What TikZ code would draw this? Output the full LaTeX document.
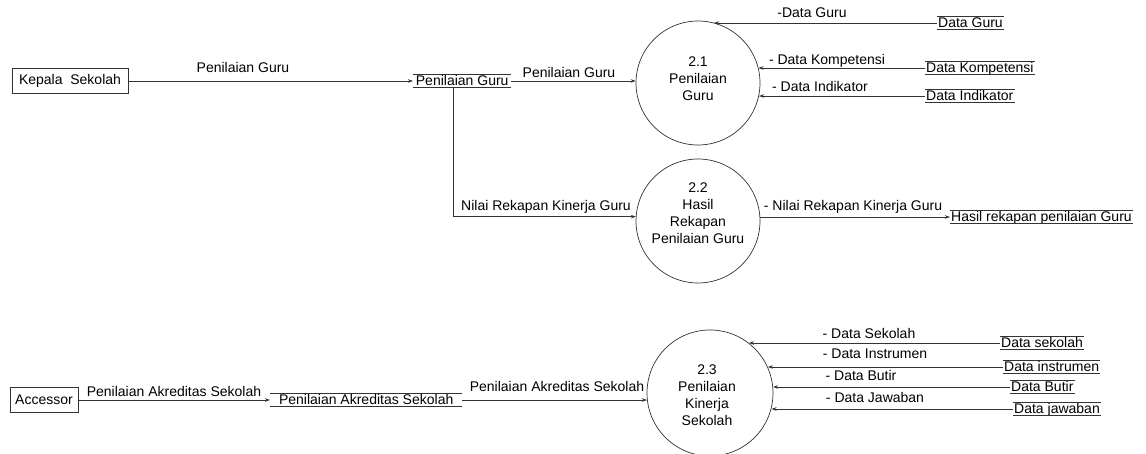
\documentclass[tikz,border=0pt]{standalone}
\usepackage{fontspec}
\setmainfont{Liberation Sans}
\usetikzlibrary{arrows.meta}
\begin{document}
\begin{tikzpicture}[x=1pt,y=-1pt,
  font=\fontsize{14}{17}\selectfont,
  ln/.style={draw=black!80, line width=0.7pt},
  arr/.style={ln, -{Stealth[length=5pt,width=3.5pt]}},
  ent/.style={draw=black!80, line width=0.7pt, inner sep=0pt, minimum height=25pt},
  proc/.style={circle, draw=black!80, line width=0.7pt, inner sep=0pt},
  ptext/.style={align=center, inner sep=0pt},
  store/.style={inner xsep=1pt, inner ysep=0pt, text height=11pt, text depth=2pt, anchor=west},
  lbl/.style={inner sep=0pt, anchor=base},
]
\useasboundingbox (0,0) rectangle (1146,454);

% external entities
\node[ent, minimum width=116pt] (kep) at (70,81) {Kepala\ \ Sekolah};
\node[ent, minimum width=68pt] (acc) at (44,400) {Accessor};

% processes
\node[proc, minimum size=124pt] (c21) at (698,83) {};
\node[ptext] (t21) at (698,78.5) {2.1\\Penilaian\\Guru};
\node[proc, minimum size=124pt] (c22) at (698,221) {};
\node[ptext] (t22) at (698,213) {2.2\\Hasil\\Rekapan\\Penilaian Guru};
\node[proc, minimum size=126pt] (c23) at (710,393) {};
\node[ptext] (t23) at (707,395.5) {2.3\\Penilaian\\Kinerja\\Sekolah};

% data stores
\node[store, minimum width=98pt] (s1) at (413,81) {Penilaian Guru};
\node[store] (dg) at (937,23) {Data Guru};
\node[store] (dk) at (925,68) {Data Kompetensi};
\node[store] (di) at (925,96) {Data Indikator};
\node[store] (hr) at (950,217) {Hasil rekapan penilaian Guru};
\node[store, minimum width=192pt] (aks) at (270,400) {Penilaian Akreditas Sekolah};
\node[store] (ds) at (1000,343) {Data sekolah};
\node[store] (dins) at (1003,367) {Data instrumen};
\node[store] (db) at (1010,387) {Data Butir};
\node[store] (dj) at (1013,409) {Data jawaban};
\foreach \s in {s1,dg,dk,di,hr,aks,ds,dins,db,dj}
  \draw[ln] (\s.north west) -- (\s.north east) (\s.south west) -- (\s.south east);

% flows
\draw[arr] (kep.east) -- (kep.east -| s1.west);
\draw[arr] (s1.east) -- (s1.east -| c21.west);
\draw[arr] ([xshift=40pt]s1.south west) |- (c22.176.3);
\draw[arr] (dg.west) -- (dg.west -| c21.75.4);
\draw[arr] (dk.west) -- (dk.west -| c21.14);
\draw[arr] (di.west) -- (di.west -| c21.-12.1);
\draw[arr] (c22.east |- hr.west) -- (hr.west);
\draw[arr] (acc.east) -- (acc.east -| aks.west);
\draw[arr] (aks.east) -- (aks.east -| c23.186.4);
\draw[arr] (ds.west) -- (ds.west -| c23.52.5);
\draw[arr] (dins.west) -- (dins.west -| c23.24.4);
\draw[arr] (db.west) -- (db.west -| c23.5.5);
\draw[arr] (dj.west) -- (dj.west -| c23.-14.7);

% flow labels
\node[lbl] (l1) at (243,73) {Penilaian Guru};
\node[lbl] (l2) at (569,78) {Penilaian Guru};
\node[lbl] (l3) at (546,211) {Nilai Rekapan Kinerja Guru};
\node[lbl] (l4) at (812,18) {-Data Guru};
\node[lbl] (l5) at (827,65) {- Data Kompetensi};
\node[lbl] (l6) at (820,92) {- Data Indikator};
\node[lbl] (l7) at (853,211) {- Nilai Rekapan Kinerja Guru};
\node[lbl] (l8) at (174,396) {Penilaian Akreditas Sekolah};
\node[lbl] (l9) at (557,391) {Penilaian Akreditas Sekolah};
\node[lbl] (l10) at (869,338) {- Data Sekolah};
\node[lbl] (l11) at (875,359) {- Data Instrumen};
\node[lbl] (l12) at (861,381) {- Data Butir};
\node[lbl] (l13) at (875,402) {- Data Jawaban};
\end{tikzpicture}
\end{document}
